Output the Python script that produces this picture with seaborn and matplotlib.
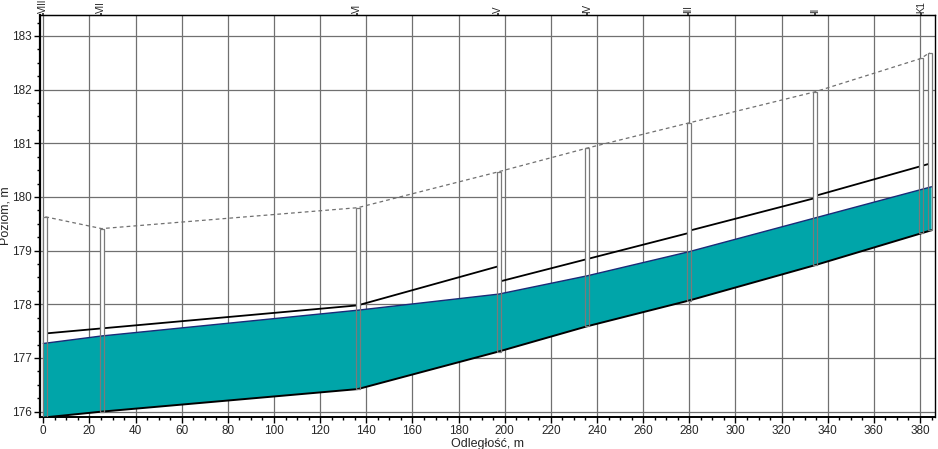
import numpy as np
import pandas as pd
import matplotlib
matplotlib.use("Agg")
import matplotlib.pyplot as plt
from matplotlib.patches import Rectangle
import seaborn as sns

# ---------------- data ----------------
station_labels = ["VIII", "VII", "VI", "V", "IV", "III", "II", "K1"]
station_label_x = [0.0, 24.9, 136.0, 197.2, 235.5, 279.5, 334.4, 380.4]

bore_x = [0.9, 25.3, 136.3, 197.4, 235.7, 279.9, 334.6, 380.4, 384.2]
bore_top = [179.63, 179.41, 179.80, 180.47, 180.91, 181.38, 181.96, 182.58, 182.69]
bore_bottom = [175.90, 176.00, 176.42, 177.12, 177.59, 178.07, 178.73, 179.33, 179.38]

layer_x = [0.0, 25.3, 136.3, 197.4, 235.7, 279.9, 334.6, 385.0]
layer_top = [177.27, 177.41, 177.89, 178.19, 178.53, 178.98, 179.61, 180.19]
layer_bottom = [175.89, 176.00, 176.42, 177.12, 177.59, 178.07, 178.73, 179.38]

water_x = [1.8, 136.3, 136.3, 197.4, 197.4, 279.9, 279.9, 334.6, 334.6, 384.2]
water_y = [177.46, 177.98, 177.98, 178.71, 178.42, 179.33, 179.37, 179.98, 180.02, 180.62]
water_seg = [0, 0, 1, 1, 2, 2, 3, 3, 4, 4]

x_ticks = list(range(0, 381, 20))
y_ticks = list(range(176, 184))

# ---------------- style ----------------
sns.set_style("white")
plt.rcParams["font.family"] = ["Liberation Sans Narrow", "Liberation Sans", "DejaVu Sans"]

W, H = 938, 449
fig = plt.figure(figsize=(W / 100, H / 100), dpi=100)
ax = fig.add_axes([40 / W, (H - 417) / H, 895 / W, 402 / H])

ax.set_xlim(-1.43, 386.5)
ax.set_ylim(175.90, 183.39)

# grid
ax.set_xticks(x_ticks)
ax.set_yticks(y_ticks)
ax.set_xticks(np.arange(0, 386, 5), minor=True)
ax.set_yticks(np.arange(176, 183.4, 0.25), minor=True)
ax.grid(True, which="major", color="#707070", linewidth=0.9, zorder=0)
ax.set_axisbelow(True)

# white bore interiors (hide lines inside bores)
bw = 1.8
for bx, bt, bb in zip(bore_x, bore_top, bore_bottom):
    ax.add_patch(Rectangle((bx - bw / 2, bb), bw, bt - bb, facecolor="white",
                           edgecolor="none", zorder=2.5))

# water table (black) and ground (dashed)
wt = pd.DataFrame({"x": water_x, "y": water_y, "seg": water_seg})
sns.lineplot(data=wt, x="x", y="y", units="seg", estimator=None, color="black",
             linewidth=1.3, ax=ax, zorder=2, sort=False)

gr = pd.DataFrame({"x": bore_x, "y": bore_top})
sns.lineplot(data=gr, x="x", y="y", color="#707070", linewidth=0.9,
             ax=ax, zorder=3, sort=False, linestyle=(0, (3, 2.5)))

# teal layer
ax.fill_between(layer_x, layer_bottom, layer_top, facecolor="#00A5A9",
                edgecolor="none", zorder=3)
ax.plot(layer_x, layer_top, color="#1b2a78", linewidth=1.0, zorder=4)
ax.plot(layer_x, layer_bottom, color="black", linewidth=1.4, zorder=4)

# bore outlines
for bx, bt, bb in zip(bore_x, bore_top, bore_bottom):
    ax.add_patch(Rectangle((bx - bw / 2, bb), bw, bt - bb, facecolor="none",
                           edgecolor="#7a7a7a", linewidth=0.9, zorder=5))

# ticks and labels
ax.tick_params(axis="both", which="major", direction="out", length=4, width=1,
               labelsize=8.5, color="black", pad=2, bottom=True, left=True)
ax.tick_params(axis="both", which="minor", direction="out", length=2.5, width=1,
               color="black", bottom=True, left=True)
for s in ax.spines.values():
    s.set_color("black")
    s.set_linewidth(1.0)
ax.spines["left"].set_linewidth(1.6)
ax.spines["bottom"].set_linewidth(1.4)

ax.set_xlabel("Odległość, m", fontsize=9)
ax.xaxis.set_label_coords(0.5, -0.052)
ax.set_ylabel("Poziom, m", fontsize=9)
ax.yaxis.set_label_coords(-0.032, 0.5)

top = ax.secondary_xaxis("top")
top.set_xticks(station_label_x)
top.set_xticklabels(station_labels, rotation=90, fontsize=7)
top.tick_params(axis="x", direction="out", length=1.2, width=1.2, pad=0.2)
top.xaxis.set_minor_locator(matplotlib.ticker.NullLocator())

fig.savefig("out.png", dpi=100)
